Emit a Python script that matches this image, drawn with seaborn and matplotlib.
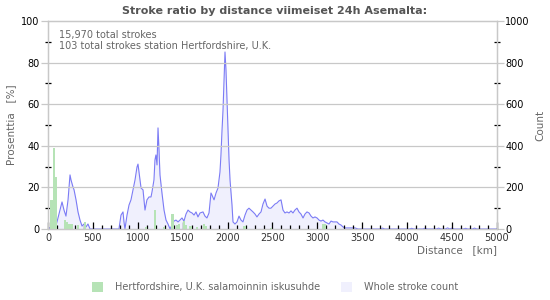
import numpy as np
import pandas as pd
import matplotlib
matplotlib.use("Agg")
import matplotlib.pyplot as plt
from matplotlib.patches import Patch
from matplotlib.ticker import MultipleLocator
import seaborn as sns

# ---- data -------------------------------------------------------------
title = "Stroke ratio by distance viimeiset 24h Asemalta:"
info_lines = ["15,970 total strokes", "103 total strokes station Hertfordshire, U.K."]
legend_labels = ["Hertfordshire, U.K. salamoinnin iskusuhde", "Whole stroke count"]

# station ratio (%) per 25 km bin (bin start km)
bar_km = [25, 50, 75, 175, 200, 225, 250, 325, 400, 1075, 1175, 1275, 1375,
          1425, 1450, 1500, 1525, 1575, 1650, 1725, 1750, 2175, 2475, 3050, 3075]
bar_pct = [14, 39, 25, 4.5, 3.5, 2.5, 2.5, 2, 3.5, 1, 9, 1, 7,
           2, 2.5, 4, 2, 1.5, 1, 2.5, 1.5, 1.5, 0.7, 2.5, 2.5]

# whole stroke count by distance
line_km = [0, 33, 56, 78, 100, 134, 156, 178, 200, 223, 245, 256, 278, 290, 312,
           334, 356, 379, 401, 423, 445, 468, 790, 813, 835, 846, 857, 880, 902,
           924, 947, 969, 991, 1002, 1024, 1036, 1058, 1069, 1080, 1102, 1125,
           1147, 1158, 1180, 1191, 1202, 1214, 1225, 1236, 1247, 1269, 1292,
           1314, 1336, 1359, 1381, 1403, 1425, 1448, 1470, 1492, 1514, 1537,
           1559, 1581, 1604, 1626, 1648, 1670, 1693, 1726, 1748, 1770, 1793,
           1815, 1826, 1849, 1871, 1893, 1915, 1926, 1938, 1949, 1960, 1971,
           1982, 1993, 2004, 2016, 2027, 2049, 2060, 2082, 2105, 2127, 2149,
           2171, 2194, 2216, 2238, 2261, 2283, 2305, 2327, 2350, 2372, 2394,
           2417, 2439, 2461, 2483, 2506, 2528, 2550, 2572, 2595, 2617, 2639,
           2661, 2684, 2706, 2728, 2750, 2773, 2795, 2817, 2840, 2862, 2884,
           2907, 2929, 2951, 2973, 2996, 3018, 3040, 3062, 3085, 3107, 3129,
           3152, 3174, 3196, 3218, 3240, 3263, 3285, 3307, 3363, 3419, 3452,
           3700, 3725, 3750, 4025, 4050, 4075, 4175, 4200, 4225, 4325, 4350,
           4375, 4425, 4450, 4475, 4500, 4525, 4625, 4650, 4675, 4725, 4750,
           4775, 5000]
line_count = [5, 5, 14, 0, 34, 91, 130, 91, 62, 140, 260, 236, 202, 188, 140,
              82, 43, 14, 24, 10, 24, 0, 0, 67, 82, 34, 0, 67, 115,
              140, 188, 236, 298, 312, 236, 197, 188, 140, 91, 140, 154,
              154, 178, 236, 332, 356, 308, 486, 380, 260, 173, 91,
              43, 24, 0, 19, 38, 43, 34, 43, 53, 38, 72,
              91, 82, 77, 67, 82, 58, 77, 82, 62, 53, 77,
              173, 163, 140, 173, 197, 274, 356, 476, 572, 716, 851,
              764, 620, 476, 332, 236, 115, 34, 24, 34, 62, 43,
              34, 67, 91, 100, 91, 82, 72, 58, 72, 82, 120,
              144, 110, 100, 100, 110, 120, 125, 135, 140, 91, 77,
              82, 77, 87, 77, 91, 100, 82, 72, 53, 72, 82,
              77, 62, 53, 58, 53, 43, 38, 43, 34, 29, 24,
              38, 34, 34, 34, 24, 19, 10, 5, 5, 5, 0,
              0, 4, 0, 0, 3, 0, 0, 4, 0, 0, 4,
              0, 0, 5, 0, 4, 0, 0, 3, 0, 0, 4,
              0, 0]

# ---- style ------------------------------------------------------------
sns.set_theme(style="white")
plt.rcParams["font.family"] = ["DejaVu Sans"]

green = "#b6e3b6"
lav_fill = "#f0f0fd"
line_col = "#7b7bf5"
grid_col = "#c8c8c8"
text_gray = "#666666"

fig = plt.figure(figsize=(5.5, 3.0), dpi=100)
ax = fig.add_axes([0.0873, 0.2367, 0.8163, 0.6933])
ax2 = ax.twinx()

# stroke count (right axis)
df_line = pd.DataFrame({"km": line_km, "count": line_count})
ax2.fill_between(df_line["km"], df_line["count"], 0, color=lav_fill, lw=0)
sns.lineplot(data=df_line, x="km", y="count", ax=ax2, color=line_col, lw=0.8)

# station ratio bars (left axis)
df_bar = pd.DataFrame({"km": np.array(bar_km) + 12.5, "pct": bar_pct})
sns.histplot(data=df_bar, x="km", weights="pct", binwidth=25, binrange=(0, 5000),
             ax=ax, color=green, alpha=1, linewidth=0, edgecolor=None)

ax.set_zorder(ax2.get_zorder() + 1)
ax.patch.set_visible(False)

ax.set_xlim(0, 5000)
ax.set_ylim(0, 100)
ax2.set_ylim(0, 1000)

ax.xaxis.set_major_locator(MultipleLocator(500))
ax.xaxis.set_minor_locator(MultipleLocator(100))
ax.yaxis.set_major_locator(MultipleLocator(20))
ax.yaxis.set_minor_locator(MultipleLocator(10))
ax2.yaxis.set_major_locator(MultipleLocator(200))
ax2.yaxis.set_minor_locator(MultipleLocator(100))

for y in [20, 40, 60, 80]:
    ax.axhline(y, color=grid_col, lw=0.9, zorder=0)

ax.tick_params(axis="x", which="major", direction="in", length=5, width=0.9,
               color="black", labelsize=7, pad=3, labelcolor="#333333",
               bottom=True)
ax.tick_params(axis="x", which="minor", direction="in", length=3, width=0.9,
               color="black", bottom=True)
ax.tick_params(axis="y", which="major", direction="out", length=5, width=0.9,
               color=grid_col, labelsize=7, pad=1, labelcolor="black", left=True)
ax.tick_params(axis="y", which="minor", direction="inout", length=4, width=0.9,
               color="black", left=True)
ax2.tick_params(axis="y", which="major", direction="out", length=5, width=0.9,
                color=grid_col, labelsize=7, pad=1, labelcolor="black", right=True)
ax2.tick_params(axis="y", which="minor", direction="inout", length=4, width=0.9,
                color="black", right=True)

for a in (ax, ax2):
    for s in a.spines.values():
        s.set_color(grid_col)
        s.set_linewidth(0.9)

ax.set_xlabel("")
ax.set_ylabel("Prosenttia   [%]", color=text_gray, fontsize=7.5, labelpad=4)
ax2.set_ylabel("Count", color=text_gray, fontsize=7.5, labelpad=4)
fig.text(0.9036, 0.167, "Distance   [km]", color=text_gray, fontsize=7.5,
         ha="right", va="center")

fig.text(0.5, 0.962, title, ha="center", va="center", fontsize=8,
         fontweight="bold", color="#555555")
ax.text(0.025, 0.955, "\n".join(info_lines), transform=ax.transAxes, ha="left",
        va="top", fontsize=7, color=text_gray, linespacing=1.1)

handles = [Patch(facecolor=green, edgecolor="none"),
           Patch(facecolor=lav_fill, edgecolor="none")]
fig.legend(handles, legend_labels, loc="center", bbox_to_anchor=(0.5, 0.042),
           ncol=2, frameon=False, fontsize=7, labelcolor=text_gray,
           handlelength=1.15, handleheight=1.15, columnspacing=2.2,
           handletextpad=1.2)

fig.savefig("out.png", dpi=100)
